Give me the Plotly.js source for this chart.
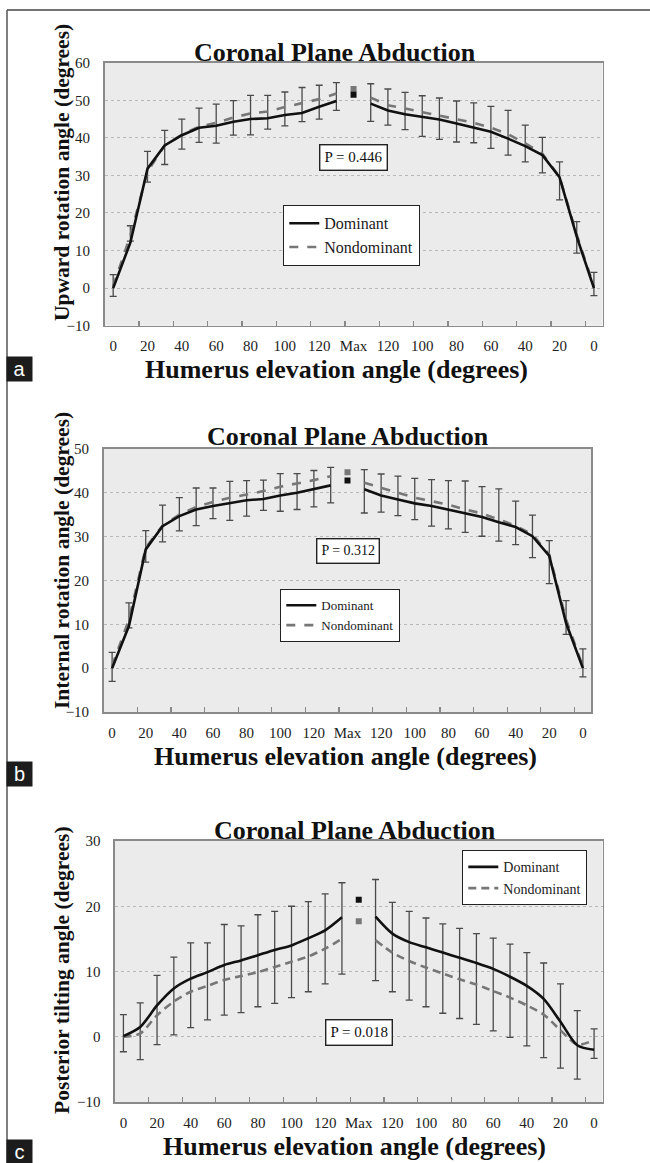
<!DOCTYPE html>
<html>
<head>
<meta charset="utf-8">
<script src="https://cdn.plot.ly/plotly-3.0.1.min.js"></script>
<style>
html,body{margin:0;padding:0;background:#ffffff;}
#chart{width:650px;height:1163px;}
</style>
</head>
<body>
<div id="chart"></div>
<script>
// ---------------- DATA ----------------
const categories = ['0','10','20','30','40','50','60','70','80','90','100','110','120','130','Max',
                    '130','120','110','100','90','80','70','60','50','40','30','20','10','0'];
const maxIndex = 14;

// (a) Upward rotation angle (degrees); index 14 = value at Max elevation
const upwardDominant    = [0, 12.1, 31.8, 38, 40.7, 42.7, 43.2, 44.3, 45, 45.2, 46.1, 46.6, 48.3, 49.8, 51.5,
                           49.1, 47.3, 46.3, 45.6, 44.9, 43.8, 42.7, 41.6, 39.8, 37.8, 35.4, 29.5, 13.7, 0];
const upwardNondominant = [0.5, 14, 31, 38, 40.8, 43, 44, 45.4, 46.5, 47, 48.2, 49.3, 50.3, 51.8, 53.0,
                           50.7, 48.7, 47.8, 46.9, 46, 45.1, 44, 42.7, 41, 38.5, 35.8, 29.6, 14.2, 0.4];
const upwardDominantSD    = [3.6, 4.5, 4.6, 4.0, 4.3, 5.2, 5.8, 5.6, 6.3, 6.1, 6.1, 6.8, 5.7, 4.9, null,
                             5.3, 5.7, 5.8, 5.6, 5.7, 6.0, 6.6, 6.8, 7.5, 5.6, 4.7, 4.1, 4.0, 4.2];
const upwardNondominantSD = [2.7, 1.5, 2.8, 5.1, 3.8, 4.2, 5.4, 4.7, 5.7, 4.7, 5.0, 5.0, 5.3, 4.5, null,
                             6.3, 5.3, 5.6, 6.5, 6.4, 6.2, 5.3, 5.5, 5.6, 4.9, 5.1, 6.1, 4.9, 2.4];

// (b) Internal rotation angle (degrees)
const internalDominant    = [0, 9.6, 27.1, 32.4, 34.7, 36.2, 37, 37.7, 38.3, 38.6, 39.4, 40, 40.8, 41.7, 42.8,
                             40.8, 39.4, 38.5, 37.6, 37, 36.2, 35.4, 34.5, 33.3, 32.2, 30.1, 25.6, 10.3, 0];
const internalNondominant = [0.5, 11.1, 27.5, 32.5, 35, 36.8, 37.9, 38.9, 39.6, 40.4, 41.4, 42.1, 42.9, 43.8, 44.7,
                             42.3, 41.1, 40, 38.9, 38.1, 37.3, 36.2, 35.3, 33.9, 32.5, 30.5, 25.9, 11.1, 0.3];
const internalDominantSD    = [3.6, 5.3, 4.3, 4.8, 4.2, 4.9, 4.1, 4.9, 4.5, 4.3, 5.0, 4.4, 4.3, 4.1, null,
                               4.5, 4.9, 5.3, 5.7, 6.0, 6.6, 7.3, 6.9, 7.6, 5.9, 4.8, 3.5, 5.1, 4.4];
const internalNondominantSD = [3.5, 1.9, 3.3, 3.7, 3.7, 4.3, 3.8, 5.2, 4.9, 4.4, 5.6, 5.9, 6.1, 6.1, null,
                               6.9, 5.5, 5.2, 5.0, 5.7, 5.5, 5.2, 5.2, 4.9, 4.3, 5.3, 6.6, 3.4, 2.3];

// (c) Posterior tilting angle (degrees)
const tiltDominant    = [0.1, 1.5, 4.8, 7.4, 8.9, 9.9, 11, 11.7, 12.5, 13.3, 14, 15.1, 16.3, 18.3, 21.0,
                         18.4, 15.8, 14.5, 13.7, 12.9, 12.1, 11.3, 10.4, 9.2, 7.8, 5.8, 2.3, -1.3, -2.0];
const tiltNondominant = [0, 0.5, 3.3, 5.4, 6.9, 7.8, 8.7, 9.3, 9.9, 10.7, 11.5, 12.3, 13.5, 15, 17.7,
                         14.8, 12.9, 11.6, 10.6, 9.7, 8.8, 8.0, 7.0, 6.0, 4.8, 3.4, 1.0, -1.2, -0.5];
const tiltDominantSD    = [3.3, 3.7, 4.6, 4.8, 5.5, 4.5, 6.2, 5.3, 6.2, 5.9, 6.0, 5.6, 5.6, 5.3, null,
                           5.7, 4.8, 4.7, 4.5, 4.4, 4.5, 4.5, 4.7, 5.0, 5.1, 5.5, 5.8, 5.3, 3.2];
const tiltNondominantSD = [2.3, 4.0, 4.5, 5.1, 5.5, 5.2, 5.4, 5.6, 5.3, 5.6, 5.5, 5.4, 5.4, 5.4, null,
                           6.2, 6.0, 6.0, 6.0, 6.1, 6.0, 6.1, 6.1, 6.1, 6.2, 6.6, 5.8, 5.3, 2.8];

const seriesNames = ['Dominant', 'Nondominant'];
const pValues = ['P = 0.446', 'P = 0.312', 'P = 0.018'];
const panelLetters = ['a', 'b', 'c'];
const chartTitle = 'Coronal Plane Abduction';
const xTitle = 'Humerus elevation angle (degrees)';
const yTitles = ['Upward rotation angle (degrees)', 'Internal rotation angle (degrees)', 'Posterior tilting angle (degrees)'];
const yRanges = [[-10, 60], [-10, 50], [-10, 30]];

// ---------------- LAYOUT HELPERS ----------------
const W = 650, H = 1163;
const PX = v => v / W;
const PY = v => 1 - v / H;
const SERIF = 'Liberation Serif, Times New Roman, serif';

const xIdx = categories.map((_, i) => i);
const tickVals = xIdx.filter(i => i % 2 === 0);
const tickText = tickVals.map(i => categories[i]);
const tickMarks = tickVals.slice(1).map(v => v - 0.5);

const panels = [
  {dom: upwardDominant, non: upwardNondominant, domSD: upwardDominantSD, nonSD: upwardNondominantSD,
   plot: [104.6, 602.5, 62.7, 325.7], title: [335, 52], ytitle: [62, 173], xtitle: [336, 369], label: [19.5, 368.5],
   legend: [283, 205, 16, 12], pY: 34.8, pFont: 15, spline: false, dash: 'dash'},
  {dom: internalDominant, non: internalNondominant, domSD: internalDominantSD, nonSD: internalNondominantSD,
   plot: [103.7, 591.3, 449, 712], title: [348, 437], ytitle: [62, 561], xtitle: [346, 756], label: [19.5, 774],
   legend: [280, 589, 13, 2], pY: 26.7, pFont: 14, spline: false, dash: 'dash'},
  {dom: tiltDominant, non: tiltNondominant, domSD: tiltDominantSD, nonSD: tiltNondominantSD,
   plot: [115, 602.5, 841, 1102], title: [355, 830], ytitle: [62, 970], xtitle: [355, 1146], label: [19.5, 1151.5],
   legend: [462, 850, 14, 2], pY: 0.6, pFont: 15, spline: true, dash: '8px,5px'}
];

const traces = [];
const layout = {
  width: W, height: H,
  margin: {l: 0, r: 0, t: 0, b: 0},
  paper_bgcolor: '#ffffff',
  plot_bgcolor: '#ebebeb',
  showlegend: true,
  font: {family: SERIF, color: '#1a1a1a'},
  annotations: [],
  shapes: [
    {type: 'line', xref: 'paper', yref: 'paper', x0: PX(7), x1: 1, y0: PY(10), y1: PY(10), line: {color: '#444', width: 1.5}},
    {type: 'line', xref: 'paper', yref: 'paper', x0: PX(7), x1: PX(7), y0: PY(10), y1: 0, line: {color: '#555', width: 1.5}}
  ]
};

panels.forEach((p, k) => {
  const n = k + 1;
  const xa = n === 1 ? 'x' : 'x' + n;
  const ya = n === 1 ? 'y' : 'y' + n;
  const xKey = n === 1 ? 'xaxis' : 'xaxis' + n;
  const yKey = n === 1 ? 'yaxis' : 'yaxis' + n;
  const legKey = n === 1 ? 'legend' : 'legend' + n;

  const domLine = p.dom.map((v, i) => i === maxIndex ? null : v);
  const nonLine = p.non.map((v, i) => i === maxIndex ? null : v);
  const lowerWhisker = p.dom.map((v, i) => (i === maxIndex || p.nonSD[i] === null) ? null : v - (p.non[i] - p.nonSD[i]));
  const shape = p.spline ? 'spline' : 'linear';

  // error bars (upper SD of dominant, lower SD of nondominant)
  traces.push({
    type: 'scatter', mode: 'markers', xaxis: xa, yaxis: ya, x: xIdx, y: domLine,
    marker: {size: 1, opacity: 0}, showlegend: false, hoverinfo: 'skip',
    error_y: {type: 'data', symmetric: false, array: p.domSD, arrayminus: lowerWhisker,
              color: '#4a4a4a', thickness: 1.3, width: 3.5}
  });
  traces.push({
    type: 'scatter', mode: 'lines', name: seriesNames[1], xaxis: xa, yaxis: ya, x: xIdx, y: nonLine,
    connectgaps: false, line: {color: '#777777', width: 2.6, dash: p.dash, shape: shape, smoothing: 0.8},
    legend: legKey, legendgroup: 'n' + n, legendrank: 2
  });
  traces.push({
    type: 'scatter', mode: 'lines', name: seriesNames[0], xaxis: xa, yaxis: ya, x: xIdx, y: domLine,
    connectgaps: false, line: {color: '#111111', width: 2.6, shape: shape, smoothing: 0.8},
    legend: legKey, legendgroup: 'd' + n, legendrank: 1
  });
  traces.push({
    type: 'scatter', mode: 'markers', xaxis: xa, yaxis: ya, x: [categories.indexOf('Max')], y: [p.non[maxIndex]],
    marker: {symbol: 'square', size: 6, color: '#777777'}, showlegend: false, hoverinfo: 'skip'
  });
  traces.push({
    type: 'scatter', mode: 'markers', xaxis: xa, yaxis: ya, x: [categories.indexOf('Max')], y: [p.dom[maxIndex]],
    marker: {symbol: 'square', size: 6, color: '#111111'}, showlegend: false, hoverinfo: 'skip'
  });

  const [x0, x1, y0, y1] = p.plot;
  layout[xKey] = {
    domain: [PX(x0), PX(x1)], anchor: ya, range: [-0.5, categories.length - 0.5],
    tickmode: 'array', tickvals: tickVals, ticktext: tickText, ticks: '',
    minor: {tickmode: 'array', tickvals: tickMarks, ticks: 'inside', ticklen: 5, tickcolor: '#888', tickwidth: 1.2, showgrid: false},
    ticklabelstandoff: 6, tickfont: {family: SERIF, size: 15, color: '#222'},
    showgrid: false, zeroline: false, showline: true, mirror: true, linecolor: '#8a8a8a', linewidth: 1.6,
    fixedrange: true
  };
  layout[yKey] = {
    domain: [PY(y1), PY(y0)], anchor: xa, range: yRanges[k], dtick: 10, tick0: 0,
    ticks: '', ticklabelstandoff: 10, tickfont: {family: SERIF, size: 15, color: '#222'},
    showgrid: true, gridcolor: '#b8b8b8', griddash: 'dot', gridwidth: 1,
    zeroline: false, showline: true, mirror: true, linecolor: '#8a8a8a', linewidth: 1.6,
    fixedrange: true
  };

  const [lx, ly, lf, lgap] = p.legend;
  layout[legKey] = {
    x: PX(lx), y: PY(ly), xanchor: 'left', yanchor: 'top', xref: 'paper', yref: 'paper',
    bgcolor: '#ffffff', bordercolor: '#222', borderwidth: 1.3,
    font: {family: SERIF, size: lf, color: '#1a1a1a'}, tracegroupgap: lgap, traceorder: 'normal'
  };

  // title
  layout.annotations.push({xref: 'paper', yref: 'paper', x: PX(p.title[0]), y: PY(p.title[1]),
    xanchor: 'center', yanchor: 'middle', showarrow: false, text: '<b>' + chartTitle + '</b>',
    font: {family: SERIF, size: 26, color: '#111'}});
  // x title
  layout.annotations.push({xref: 'paper', yref: 'paper', x: PX(p.xtitle[0]), y: PY(p.xtitle[1]),
    xanchor: 'center', yanchor: 'middle', showarrow: false, text: '<b>' + xTitle + '</b>',
    font: {family: SERIF, size: 26, color: '#111'}});
  // y title
  layout.annotations.push({xref: 'paper', yref: 'paper', x: PX(p.ytitle[0]), y: PY(p.ytitle[1]),
    xanchor: 'center', yanchor: 'middle', showarrow: false, textangle: -90, text: '<b>' + yTitles[k] + '</b>',
    font: {family: SERIF, size: 21.5, color: '#111'}});
  // P value box
  layout.annotations.push({xref: xa, yref: ya, x: maxIndex, y: p.pY, xanchor: 'center', yanchor: 'middle',
    showarrow: false, text: pValues[k], bgcolor: '#ffffff', bordercolor: '#222', borderwidth: 1.4, borderpad: 4,
    font: {family: SERIF, size: p.pFont, color: '#111'}});
  // panel letter
  layout.annotations.push({xref: 'paper', yref: 'paper', x: PX(p.label[0]), y: PY(p.label[1]),
    xanchor: 'center', yanchor: 'middle', showarrow: false, text: panelLetters[k], width: 23, height: 22,
    bgcolor: '#1c1c1c', font: {family: 'Liberation Sans, Arial, sans-serif', size: 20, color: '#ffffff'}});
});

Plotly.newPlot('chart', traces, layout, {displayModeBar: false, staticPlot: true});
</script>
</body>
</html>
